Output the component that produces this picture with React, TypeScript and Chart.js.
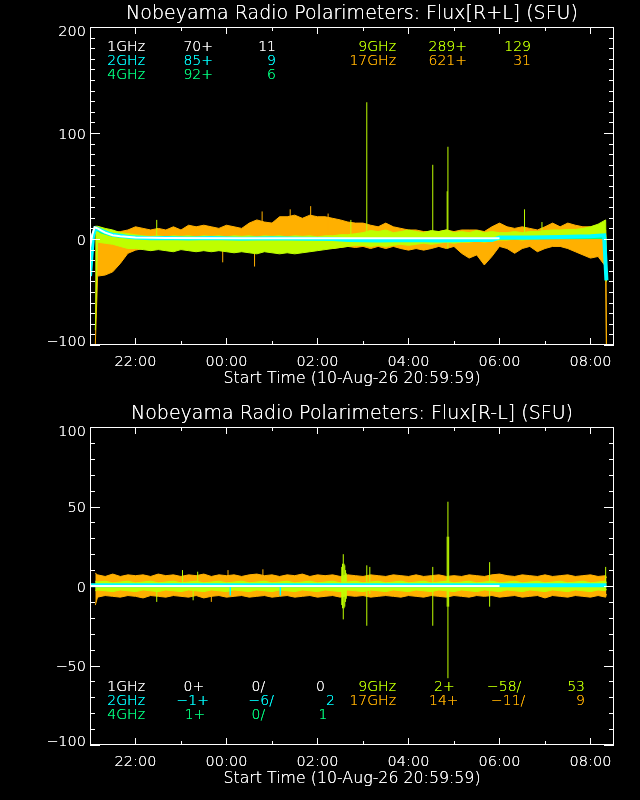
import React, { useEffect, useRef } from "react";
import { Chart, registerables } from "chart.js";

Chart.register(...registerables);

// ---------------- DATA (minutes since 20:59:59) ----------------
const GRID_T = [7, 10, 20, 30, 40, 50, 60, 70, 80, 90, 100, 110, 120, 130, 140, 150, 160, 170, 180, 190, 200, 210, 220, 230, 240, 250, 260, 270, 280, 290, 300, 310, 320, 330, 340, 350, 360, 370, 380, 390, 400, 410, 420, 430, 440, 450, 460, 470, 480, 490, 500, 510, 520, 530, 540, 550, 560, 570, 580, 590, 600, 610, 620, 630, 640, 650, 660, 670, 680, 681];

// Top panel (R+L)
const TOP_17_HI = [5, 6, 5, 6, 7, 8.5, 11.5, 10, 8.5, 10, 8.5, 11.5, 8.5, 13, 11.5, 13, 11.5, 10, 13, 11.5, 10, 15, 18, 16, 15, 21, 21, 22.5, 19.5, 22.5, 21, 21, 19.5, 18, 16, 15, 15, 13, 11.5, 15, 11.5, 10, 8.5, 8.5, 7, 7, 7, 8.5, 7, 8.5, 8.5, 8.5, 7, 11.5, 15, 11.5, 10, 11.5, 10, 8.5, 11.5, 15, 11.5, 15, 13, 11.5, 11.5, 13, 8.5, -100];
const TOP_17_LO = [-100, -35, -34, -31, -23, -13.5, -10.5, -9, -10, -9, -7, -9, -8, -10, -9, -8, -9, -10, -11, -9, -8, -10, -12, -9, -10, -11, -9, -10, -12, -10, -9, -8, -9, -8, -7, -8, -7, -9, -7, -9, -7, -9, -10.5, -9, -10.5, -9, -7, -9, -7, -13.5, -18, -15, -24.5, -16.5, -7, -9, -13.5, -9, -7, -12, -9, -7, -7, -9, -12, -15, -18, -16.5, -26, -100];
const TOP_9_HI = [12, 12, 10, 8.5, 6, 5, 4, 3, 2.5, 3, 2, 3, 2.5, 3, 2, 3, 2.5, 3, 2, 3, 2.5, 3, 2, 3, 2.5, 3, 2, 3, 2.5, 3, 2, 3, 3, 4, 4, 5, 6, 8, 7, 8.5, 6, 7, 8.5, 7, 6, 8, 7, 8.5, 6, 7, 6, 8, 6, 7, 6, 6, 7, 6, 7, 7, 8, 8.5, 8.5, 9, 9, 10, 11.5, 14, 18, -40];
const TOP_9_LO = [-86, -3, -4, -5, -7, -9, -9, -10, -11, -10, -11, -12, -10, -11, -12, -11, -12, -11, -12, -13, -12, -13, -14, -12, -13, -14, -13, -14, -13, -12, -11, -10, -9, -8, -7, -6, -6, -7, -6, -7, -6, -5, -6, -5, -4, -5, -4, -3, -4, -3, -3, -2, -3, -2, -1, -1, 0, -1, 0, 0, 1, 1, 1, 2, 2, 2, 3, 3, 4, -40];
const TOP_9_SPIKE_T = [88, 344, 365, 452, 471, 472, 573, 596];
const TOP_9_SPIKE_LO = [0, 0, 0, 0, 0, -9, 0, 0];
const TOP_9_SPIKE_HI = [18, 18, 129, 70, 45, 87, 28, 16];
const TOP_17_SPIKE_T = [175, 217, 227, 264, 291, 314];
const TOP_17_SPIKE_LO = [-22, -26, 0, 0, 0, 0];
const TOP_17_SPIKE_HI = [0, 0, 26, 28, 31, 24];
const TOP_2_T = [0, 2, 4, 7, 10, 15, 20, 25, 30, 40, 50, 60, 80, 100, 130, 160, 200, 240, 280, 320, 340, 380, 420, 460, 500, 530, 540, 580, 620, 660, 678, 681];
const TOP_2_V = [-35, -15, 3, 10, 9.5, 8, 6.5, 5, 4, 3, 2, 1.5, 0.8, 1, 0.5, 1, 0.3, 0.8, 0.2, 0, -1, -1.5, -1, -1.5, -1, -1, 1.5, 1.5, 2, 2.5, 3.5, -39];
const TOP_1_T = [0, 3, 6, 10, 15, 20, 30, 40, 60, 100, 200, 300, 400, 540];
const TOP_1_V = [-8, 4, 11, 10, 8, 6, 3.5, 2.5, 1.5, 1, 0.7, 0.7, 0.7, 0.7];
const TOP_4_T = [0, 4, 8, 15, 30, 60, 300, 540, 681];
const TOP_4_V = [-20, 5, 9, 6, 3, 1, 0, 0.5, 1];

// Bottom panel (R-L)
const BOT_17_HI = [8, 7, 6, 7.5, 6, 7, 6.5, 7, 6, 7.5, 6.5, 7, 6, 7, 6.5, 7.5, 6, 7, 6.5, 7, 6, 7, 7.5, 6.5, 7, 6, 7, 6.5, 7.5, 6, 7, 6.5, 7, 6, 7, 6.5, 6, 7, 6.5, 6, 7, 6.5, 6, 7, 6, 6.5, 7, 6, 6.5, 6, 7, 6.5, 6, 7, 7.5, 6.5, 6, 7, 6.5, 6, 7, 6, 6.5, 7, 6, 6.5, 7, 6, 6.5, 5];
const BOT_17_LO = [-12, -7, -6, -6.5, -7, -6, -6.5, -7.5, -6, -6.5, -7, -6, -6.5, -7, -6, -7.5, -6.5, -6, -7, -6.5, -6, -7, -6.5, -6, -7, -6.5, -6, -7, -6.5, -6, -7, -6.5, -6, -7, -6, -6.5, -6, -7, -6.5, -6, -6.5, -7, -6, -6.5, -7, -6, -6.5, -7, -6, -6.5, -7, -6, -6.5, -6, -7, -6.5, -6, -7, -6.5, -6, -7.5, -6, -6.5, -7, -6, -6.5, -7, -6, -7, -5];
const BOT_9_HI = [3, 2.5, 3, 2, 2.5, 3, 2, 2.5, 3, 2, 2.5, 3, 2, 2.5, 3, 2, 2.5, 3, 2, 2.5, 3, 2, 2.5, 3, 2, 2.5, 3, 2, 2.5, 3, 2, 2.5, 3, 2, 2.5, 3, 2, 2.5, 3, 2, 2.5, 3, 2, 2.5, 3, 2, 2.5, 3, 2, 2.5, 3, 2, 2.5, 3, 2, 2.5, 3, 2, 2.5, 3, 2, 2.5, 3, 2, 2.5, 3, 2, 2.5, 3, 2];
const BOT_9_LO = [-3, -2.5, -3, -3.5, -2.5, -3, -3.5, -2.5, -3, -3.5, -2.5, -3, -3.5, -2.5, -3, -3.5, -2.5, -3, -3.5, -2.5, -3, -3.5, -2.5, -3, -3.5, -2.5, -3, -3.5, -2.5, -3, -3.5, -2.5, -3, -3.5, -2.5, -3, -3.5, -2.5, -3, -3.5, -2.5, -3, -3.5, -2.5, -3, -3.5, -2.5, -3, -3.5, -2.5, -3, -3.5, -2.5, -3, -3.5, -2.5, -3, -3.5, -2.5, -3, -3.5, -2.5, -3, -3.5, -2.5, -3, -3.5, -2.5, -3, -2];
const BOT_9_SPIKE_T = [88, 122, 136, 142, 332, 333, 334, 335, 336, 337, 338, 365, 369, 452, 471, 472, 473, 527, 680];
const BOT_9_SPIKE_LO = [-10, 0, -9, 0, -12, -14, -21, -14, -13, -10, -8, -25, -5, -25, -13, -58, -13, -13, 0];
const BOT_9_SPIKE_HI = [0, 10, 0, 9, 12, 14, 20, 14, 13, 10, 8, 13, 12, 12, 31, 53, 31, 15, 12];
const BOT_17_SPIKE_T = [160, 182, 228];
const BOT_17_SPIKE_LO = [-10, 0, 0];
const BOT_17_SPIKE_HI = [0, 10, 10.5];
const BOT_2_T = [0, 540, 541, 681];
const BOT_2_V = [0.5, 0.5, 0.5, 0.5];
const BOT_2_SPIKE_T = [185, 251];
const BOT_2_SPIKE_LO = [-6, -6];
const BOT_2_SPIKE_HI = [0, 0];
const BOT_1_T = [0, 540];
const BOT_1_V = [0, 0];
const BOT_4_T = [0, 681];
const BOT_4_V = [0, 0];

// Axis ticks
const X_MIN = 0;
const X_MAX = 691;
const X_MAJOR_T = [60, 180, 300, 420, 540, 660];
const X_LABELS = ["22:00", "00:00", "02:00", "04:00", "06:00", "08:00"];
const X_MINOR_T = [120, 240, 360, 480, 600];
const TOP_Y_TICKS = [-100, 0, 100, 200];
const TOP_Y_LABELS = ["\u2212100", "0", "100", "200"];
const BOT_Y_TICKS = [-100, -50, 0, 50, 100];
const BOT_Y_LABELS = ["\u2212100", "\u221250", "0", "50", "100"];
const Y_MINOR_STEP = 10;

// Texts
const TOP_TITLE = "Nobeyama Radio Polarimeters: Flux[R+L] (SFU)";
const BOT_TITLE = "Nobeyama Radio Polarimeters: Flux[R-L] (SFU)";
const X_TITLE = "Start Time (10-Aug-26 20:59:59)";
const TOP_LEG_TEXT = [["1GHz", "70+", "11"], ["2GHz", "85+", "9"], ["4GHz", "92+", "6"], ["9GHz", "289+", "129"], ["17GHz", "621+", "31"]];
const BOT_LEG_TEXT = [["1GHz", "0+", "0/", "0"], ["2GHz", "\u22121+", "\u22126/", "2"], ["4GHz", "1+", "0/", "1"], ["9GHz", "2+", "\u221258/", "53"], ["17GHz", "14+", "\u221211/", "9"]];

// ---------------- STYLE / LAYOUT ----------------
const C1 = "#ffffff";
const C2 = "#00ffff";
const C4 = "#00ff80";
const C9 = "#bfff00";
const C17 = "#ffb000";
const LEG_COLORS = [C1, C2, C4, C9, C17];
const FONT = '"DejaVu Sans", "Liberation Sans", sans-serif';
const WEIGHT = "200";

const TOP_LEG_POS = [
  { y: 51, xs: [145, 213, 276], al: ["right", "right", "right"] },
  { y: 65, xs: [145, 213, 276], al: ["right", "right", "right"] },
  { y: 79, xs: [145, 213, 276], al: ["right", "right", "right"] },
  { y: 51, xs: [396, 467, 531], al: ["right", "right", "right"] },
  { y: 65, xs: [396, 467, 531], al: ["right", "right", "right"] },
];
const BOT_LEG_POS = [
  { y: 291, xs: [145, 183.5, 251.6, 316], al: ["right", "left", "left", "left"] },
  { y: 305, xs: [145, 176.6, 248.6, 326], al: ["right", "left", "left", "left"] },
  { y: 319, xs: [145, 184.7, 251.6, 318.6], al: ["right", "left", "left", "left"] },
  { y: 291, xs: [396, 434, 487, 585], al: ["right", "left", "left", "right"] },
  { y: 305, xs: [396, 429, 491, 585], al: ["right", "left", "left", "right"] },
];

const pts = (t: number[], v: number[]) => t.map((x, i) => ({ x, y: v[i] }));
const spikes = (t: number[], lo: number[], hi: number[]) =>
  t.flatMap((x, i) => [{ x, y: lo[i] }, { x, y: hi[i] }, { x, y: null as any }]);

const lineDs = (data: any[], color: string, width: number, order: number, fill: any = false) => ({
  data,
  borderColor: color,
  backgroundColor: color,
  borderWidth: width,
  pointRadius: 0,
  pointHoverRadius: 0,
  tension: 0,
  fill,
  order,
  spanGaps: false,
});

function topDatasets() {
  return [
    lineDs(pts(TOP_1_T, TOP_1_V), C1, 2, 0),
    lineDs(pts(TOP_2_T, TOP_2_V), C2, 4, 1),
    lineDs(pts(TOP_4_T, TOP_4_V), C4, 2, 2),
    lineDs(spikes(TOP_9_SPIKE_T, TOP_9_SPIKE_LO, TOP_9_SPIKE_HI), C9, 1, 3),
    lineDs(pts(GRID_T, TOP_9_HI), C9, 1, 4),
    lineDs(pts(GRID_T, TOP_9_LO), C9, 1, 4, "-1"),
    lineDs(spikes(TOP_17_SPIKE_T, TOP_17_SPIKE_LO, TOP_17_SPIKE_HI), C17, 1, 6),
    lineDs(pts(GRID_T, TOP_17_HI), C17, 1, 7),
    lineDs(pts(GRID_T, TOP_17_LO), C17, 1, 7, "-1"),
  ];
}
function botDatasets() {
  return [
    lineDs(pts(BOT_1_T, BOT_1_V), C1, 2, 0),
    lineDs(pts(BOT_2_T, BOT_2_V), C2, 4, 1),
    lineDs(spikes(BOT_2_SPIKE_T, BOT_2_SPIKE_LO, BOT_2_SPIKE_HI), C2, 1.5, 1),
    lineDs(pts(BOT_4_T, BOT_4_V), C4, 2, 2),
    lineDs(spikes(BOT_9_SPIKE_T, BOT_9_SPIKE_LO, BOT_9_SPIKE_HI), C9, 1, 3),
    lineDs(pts(GRID_T, BOT_9_HI), C9, 1, 4),
    lineDs(pts(GRID_T, BOT_9_LO), C9, 1, 4, "-1"),
    lineDs(spikes(BOT_17_SPIKE_T, BOT_17_SPIKE_LO, BOT_17_SPIKE_HI), C17, 1, 6),
    lineDs(pts(GRID_T, BOT_17_HI), C17, 1, 7),
    lineDs(pts(GRID_T, BOT_17_LO), C17, 1, 7, "-1"),
  ];
}

type Spec = {
  title: string;
  yMin: number;
  yMax: number;
  yTicks: number[];
  yLabels: string[];
  legText: string[][];
  legPos: { y: number; xs: number[]; al: string[] }[];
  datasets: () => any[];
};

const SPECS: Spec[] = [
  { title: TOP_TITLE, yMin: -100, yMax: 200, yTicks: TOP_Y_TICKS, yLabels: TOP_Y_LABELS, legText: TOP_LEG_TEXT, legPos: TOP_LEG_POS, datasets: topDatasets },
  { title: BOT_TITLE, yMin: -100, yMax: 100, yTicks: BOT_Y_TICKS, yLabels: BOT_Y_LABELS, legText: BOT_LEG_TEXT, legPos: BOT_LEG_POS, datasets: botDatasets },
];

function drawText(ctx: CanvasRenderingContext2D, s: string, x: number, y: number, color: string, size: number, align: CanvasTextAlign) {
  ctx.font = `${WEIGHT} ${size}px ${FONT}`;
  ctx.fillStyle = color;
  ctx.textAlign = align;
  ctx.textBaseline = "alphabetic";
  // drawn twice so the thin strokes keep the full colour
  ctx.fillText(s, x, y);
  ctx.fillText(s, x, y);
}

function makePlugin(spec: Spec) {
  return {
    id: "idlFrame",
    beforeDraw(chart: any) {
      const { ctx, width, height } = chart;
      ctx.save();
      ctx.fillStyle = "#000";
      ctx.fillRect(0, 0, width, height);
      ctx.restore();
    },
    afterDraw(chart: any) {
      const { ctx, chartArea: a } = chart;
      const xs = chart.scales.x;
      const ys = chart.scales.y;
      ctx.save();
      ctx.strokeStyle = "#fff";
      ctx.lineWidth = 1;
      const seg = (x1: number, y1: number, x2: number, y2: number) => {
        ctx.beginPath();
        ctx.moveTo(x1, y1);
        ctx.lineTo(x2, y2);
        ctx.stroke();
      };
      // frame
      ctx.strokeRect(a.left + 0.5, a.top + 0.5, a.right - a.left - 1, a.bottom - a.top - 1);
      // x ticks
      X_MAJOR_T.forEach((t) => {
        const px = Math.round(xs.getPixelForValue(t)) + 0.5;
        seg(px, a.bottom, px, a.bottom - 7);
        seg(px, a.top, px, a.top + 7);
      });
      X_MINOR_T.forEach((t) => {
        const px = Math.round(xs.getPixelForValue(t)) + 0.5;
        seg(px, a.bottom, px, a.bottom - 4);
        seg(px, a.top, px, a.top + 4);
      });
      // y ticks
      for (let v = spec.yMin; v <= spec.yMax; v += Y_MINOR_STEP) {
        const py = Math.round(ys.getPixelForValue(v)) + 0.5;
        const major = spec.yTicks.includes(v);
        const len = major ? 10 : 5;
        seg(a.left, py, a.left + len, py);
        seg(a.right, py, a.right - len, py);
      }
      // y labels
      spec.yTicks.forEach((v, i) => {
        const py = ys.getPixelForValue(v);
        let off = 5.5;
        if (v === spec.yMax) off = 9;
        if (v === spec.yMin) off = 1;
        drawText(ctx, spec.yLabels[i], 86, py + off, "#fff", 14.5, "right");
      });
      // x labels
      X_MAJOR_T.forEach((t, i) => {
        drawText(ctx, X_LABELS[i], xs.getPixelForValue(t), 366, "#fff", 14.5, "center");
      });
      // titles
      const cx = (a.left + a.right) / 2;
      drawText(ctx, spec.title, cx, 19, "#fff", 19, "center");
      drawText(ctx, X_TITLE, cx, 383, "#fff", 15.8, "center");
      // legend texts
      spec.legText.forEach((row, r) => {
        const pos = spec.legPos[r];
        row.forEach((s, c) => {
          drawText(ctx, s, pos.xs[c], pos.y, LEG_COLORS[r], 14, pos.al[c] as CanvasTextAlign);
        });
      });
      ctx.restore();
    },
  };
}

function Panel({ spec }: { spec: Spec }) {
  const ref = useRef<HTMLCanvasElement>(null);
  useEffect(() => {
    if (!ref.current) return;
    const chart = new Chart(ref.current, {
      type: "line",
      data: { datasets: spec.datasets() },
      options: {
        animation: false,
        responsive: false,
        maintainAspectRatio: false,
        devicePixelRatio: 1,
        events: [],
        layout: { padding: { left: 90, right: 26, top: 27, bottom: 55 } },
        plugins: { legend: { display: false }, tooltip: { enabled: false }, title: { display: false } },
        scales: {
          x: { type: "linear", min: X_MIN, max: X_MAX, display: false },
          y: { type: "linear", min: spec.yMin, max: spec.yMax, display: false },
        },
      } as any,
      plugins: [makePlugin(spec)],
    });
    return () => chart.destroy();
  }, [spec]);
  return <canvas ref={ref} width={640} height={400} style={{ display: "block", width: 640, height: 400 }} />;
}

export default function App() {
  useEffect(() => {
    document.body.style.margin = "0";
    document.body.style.background = "#000";
  }, []);
  return (
    <div style={{ position: "absolute", left: 0, top: 0, width: 640, height: 800, background: "#000" }}>
      <Panel spec={SPECS[0]} />
      <Panel spec={SPECS[1]} />
    </div>
  );
}
